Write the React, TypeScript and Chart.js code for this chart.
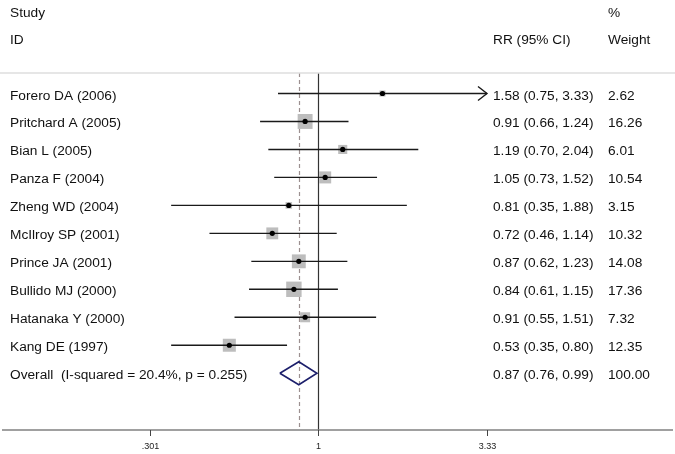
import React, { useEffect, useRef } from "react";
import { Chart, registerables } from "chart.js";

Chart.register(...registerables);

const studies = [
  "Forero DA (2006)",
  "Pritchard A (2005)",
  "Bian L (2005)",
  "Panza F (2004)",
  "Zheng WD (2004)",
  "McIlroy SP (2001)",
  "Prince JA (2001)",
  "Bullido MJ (2000)",
  "Hatanaka Y (2000)",
  "Kang DE (1997)",
];
const rr = [1.58, 0.91, 1.19, 1.05, 0.81, 0.72, 0.87, 0.84, 0.91, 0.53];
const lower = [0.75, 0.66, 0.7, 0.73, 0.35, 0.46, 0.62, 0.61, 0.55, 0.35];
const upper = [3.33, 1.24, 2.04, 1.52, 1.88, 1.14, 1.23, 1.15, 1.51, 0.8];
const weights = [2.62, 16.26, 6.01, 10.54, 3.15, 10.32, 14.08, 17.36, 7.32, 12.35];

const overallLabel = "Overall  (I-squared = 20.4%, p = 0.255)";
const overallRR = 0.87;
const overallLower = 0.76;
const overallUpper = 0.99;
const overallWeight = 100.0;

const tickValues = [0.301, 1, 3.33];
const tickLabels = [".301", "1", "3.33"];

const headerLeft = ["Study", "ID"];
const headerRR = "RR (95% CI)";
const headerWeight = ["%", "Weight"];

const FONT = '"Liberation Sans", Arial, sans-serif';
const X_MIN = 0.301;
const X_MAX = 3.33;
const DIAMOND_HALF = 0.41; // in row units

export default function App() {
  const ref = useRef<HTMLCanvasElement | null>(null);

  useEffect(() => {
    const canvas = ref.current;
    if (!canvas) return;
    const n = studies.length;
    const overallRow = n;

    const datasets: any[] = [];
    // dots (top)
    datasets.push({
      type: "scatter",
      data: rr.map((v, i) => ({ x: v, y: i })),
      pointStyle: "circle",
      pointRadius: 2.6,
      backgroundColor: "#000",
      borderWidth: 0,
    });
    // diamond
    datasets.push({
      type: "line",
      data: [
        { x: overallLower, y: overallRow },
        { x: overallRR, y: overallRow - DIAMOND_HALF },
        { x: overallUpper, y: overallRow },
        { x: overallRR, y: overallRow + DIAMOND_HALF },
        { x: overallLower, y: overallRow },
      ],
      borderColor: "#1c1f6b",
      borderWidth: 1.6,
      pointRadius: 0,
      fill: false,
      tension: 0,
      showLine: true,
    });
    // CI lines
    for (let i = 0; i < n; i++) {
      datasets.push({
        type: "line",
        data: [
          { x: lower[i], y: i },
          { x: upper[i], y: i },
        ],
        borderColor: "#1a1a1a",
        borderWidth: 1.4,
        pointRadius: 0,
        fill: false,
        showLine: true,
      });
    }
    // weight squares (bottom)
    datasets.push({
      type: "scatter",
      data: rr.map((v, i) => ({ x: v, y: i })),
      pointStyle: "rect",
      pointRadius: weights.map((w) => (3.7 * Math.sqrt(w)) / Math.SQRT2),
      backgroundColor: "#bdbdbd",
      borderWidth: 0,
    });

    const forestPlugin = {
      id: "forest",
      beforeDatasetsDraw(chart: any) {
        const ctx = chart.ctx;
        const xs = chart.scales.x;
        const area = chart.chartArea;
        ctx.save();
        // null line
        const x1 = Math.round(xs.getPixelForValue(1)) + 0.5;
        ctx.strokeStyle = "#333";
        ctx.lineWidth = 1.2;
        ctx.beginPath();
        ctx.moveTo(x1, area.top);
        ctx.lineTo(x1, area.bottom);
        ctx.stroke();
        // overall dashed line
        const xo = Math.round(xs.getPixelForValue(overallRR)) + 0.5;
        ctx.strokeStyle = "#9c9090";
        ctx.setLineDash([4, 3]);
        ctx.beginPath();
        ctx.moveTo(xo, area.top);
        ctx.lineTo(xo, area.bottom);
        ctx.stroke();
        ctx.restore();
      },
      afterDatasetsDraw(chart: any) {
        const ctx = chart.ctx;
        const xs = chart.scales.x;
        const ys = chart.scales.y;
        ctx.save();
        ctx.strokeStyle = "#1a1a1a";
        ctx.lineWidth = 1.4;
        for (let i = 0; i < studies.length; i++) {
          if (upper[i] >= X_MAX) {
            const px = xs.getPixelForValue(upper[i]);
            const py = ys.getPixelForValue(i);
            ctx.beginPath();
            ctx.moveTo(px - 9, py - 7);
            ctx.lineTo(px, py);
            ctx.lineTo(px - 9, py + 7);
            ctx.stroke();
          }
        }
        ctx.restore();
      },
      afterDraw(chart: any) {
        const ctx = chart.ctx;
        const xs = chart.scales.x;
        const ys = chart.scales.y;
        const area = chart.chartArea;
        const W = chart.width;
        ctx.save();
        // separator line
        ctx.strokeStyle = "#dedede";
        ctx.lineWidth = 1.5;
        ctx.beginPath();
        ctx.moveTo(0, area.top);
        ctx.lineTo(W, area.top);
        ctx.stroke();
        // x axis line
        ctx.strokeStyle = "#808080";
        ctx.lineWidth = 1.6;
        ctx.beginPath();
        ctx.moveTo(2, area.bottom);
        ctx.lineTo(W - 2, area.bottom);
        ctx.stroke();
        // ticks
        ctx.strokeStyle = "#444";
        ctx.lineWidth = 1;
        ctx.fillStyle = "#222";
        ctx.font = `9px ${FONT}`;
        ctx.textAlign = "center";
        ctx.textBaseline = "alphabetic";
        tickValues.forEach((v, k) => {
          const px = Math.round(xs.getPixelForValue(v)) + 0.5;
          ctx.beginPath();
          ctx.moveTo(px, area.bottom);
          ctx.lineTo(px, area.bottom + 6);
          ctx.stroke();
          ctx.fillText(tickLabels[k], px, area.bottom + 19);
        });

        // texts
        ctx.fillStyle = "#111";
        ctx.font = `13.7px ${FONT}`;
        ctx.textAlign = "left";
        const colLeft = 10;
        const colRR = 493;
        const colW = 608;
        ctx.fillText(headerLeft[0], colLeft, 17);
        ctx.fillText(headerLeft[1], colLeft, 44);
        ctx.fillText(headerWeight[0], colW, 17);
        ctx.fillText(headerRR, colRR, 44);
        ctx.fillText(headerWeight[1], colW, 44);

        const fmt = (v: number) => v.toFixed(2);
        for (let i = 0; i < studies.length; i++) {
          const py = ys.getPixelForValue(i) + 6;
          ctx.fillText(studies[i], colLeft, py);
          ctx.fillText(`${fmt(rr[i])} (${fmt(lower[i])}, ${fmt(upper[i])})`, colRR, py);
          ctx.fillText(fmt(weights[i]), colW, py);
        }
        const po = ys.getPixelForValue(studies.length) + 6;
        ctx.fillText(overallLabel, colLeft, po);
        ctx.fillText(`${fmt(overallRR)} (${fmt(overallLower)}, ${fmt(overallUpper)})`, colRR, po);
        ctx.fillText(fmt(overallWeight), colW, po);
        ctx.restore();
      },
    };

    const chart = new Chart(canvas, {
      type: "scatter",
      data: { datasets },
      options: {
        animation: false,
        responsive: false,
        devicePixelRatio: 1,
        events: [],
        layout: { padding: { left: 150, right: 188, top: 73, bottom: 24 } },
        plugins: { legend: { display: false }, tooltip: { enabled: false } },
        scales: {
          x: {
            type: "logarithmic",
            min: X_MIN,
            max: X_MAX,
            bounds: "data",
            display: false,
          },
          y: {
            type: "linear",
            min: -0.733,
            max: 12.03,
            reverse: true,
            bounds: "data",
            display: false,
          },
        },
      } as any,
      plugins: [forestPlugin],
    });
    return () => chart.destroy();
  }, []);

  return (
    <div style={{ position: "absolute", left: 0, top: 0, width: 675, height: 454, background: "#fff" }}>
      <canvas ref={ref} width={675} height={454} style={{ display: "block" }} />
    </div>
  );
}
